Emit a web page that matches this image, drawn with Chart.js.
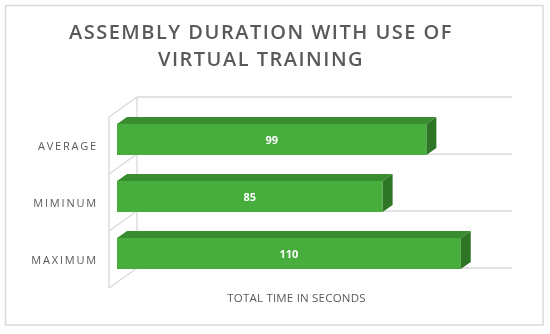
<!DOCTYPE html>
<html>
<head>
<meta charset="utf-8">
<script src="https://cdn.jsdelivr.net/npm/chart.js@4/dist/chart.umd.min.js"></script>
<style>
  html, body { margin: 0; padding: 0; background: #fff; }
  #wrap { width: 550px; height: 334px; }
</style>
</head>
<body>
<div id="wrap"><canvas id="chartDuration"></canvas></div>
<script>
// data
var categories = ['AVERAGE', 'MIMINUM', 'MAXIMUM'];
var seconds = [99, 85, 110];
var titleLines = ['ASSEMBLY DURATION WITH USE OF', 'VIRTUAL TRAINING'];
var axisTitle = 'TOTAL TIME IN SECONDS';

var green = '#47ad3d';
var greenTop = '#3a8c30';
var greenSide = '#2e7625';
var gridColor = '#d9d9d9';
var textColor = '#595959';

// fake 3d offsets
var depth = { dx: 10, dy: -7 };
var front = { dx: -8, dy: 6 };
var back = { dx: 20, dy: -14 };

var fake3d = {
    id: 'fake3d',
    beforeDraw: function (chart) {
        var ctx = chart.ctx;
        ctx.save();
        ctx.strokeStyle = gridColor;
        ctx.lineWidth = 1.5;
        ctx.strokeRect(5.5, 5.5, 537.5, 319.5);
        ctx.restore();
        ctx.letterSpacing = '1.5px';
    },
    beforeDatasetsDraw: function (chart) {
        var ctx = chart.ctx;
        var a = chart.chartArea;
        var ys = chart.scales.y;
        ctx.letterSpacing = '0px';
        ctx.save();
        ctx.strokeStyle = gridColor;
        ctx.lineWidth = 1.3;
        ctx.beginPath();
        // left wall
        ctx.moveTo(a.left + front.dx, a.top + front.dy);
        ctx.lineTo(a.left + front.dx, a.bottom + front.dy);
        ctx.moveTo(a.left + back.dx, a.top + back.dy);
        ctx.lineTo(a.left + back.dx, a.bottom + back.dy);
        for (var i = 0; i <= categories.length; i++) {
            var y = ys.getPixelForValue(i - 0.5);
            ctx.moveTo(a.left + front.dx, y + front.dy);
            ctx.lineTo(a.left + back.dx, y + back.dy);
            ctx.moveTo(a.left + back.dx, y + back.dy);
            ctx.lineTo(a.right + back.dx, y + back.dy);
        }
        ctx.stroke();
        ctx.restore();
    },
    afterDatasetsDraw: function (chart) {
        var ctx = chart.ctx;
        var meta = chart.getDatasetMeta(0);
        ctx.save();
        meta.data.forEach(function (bar, i) {
            var p = bar.getProps(['x', 'y', 'base', 'height'], true);
            var top = p.y - p.height / 2;
            var bottom = p.y + p.height / 2;
            // top face
            ctx.fillStyle = greenTop;
            ctx.beginPath();
            ctx.moveTo(p.base, top);
            ctx.lineTo(p.x, top);
            ctx.lineTo(p.x + depth.dx, top + depth.dy);
            ctx.lineTo(p.base + depth.dx, top + depth.dy);
            ctx.closePath();
            ctx.fill();
            // side face
            ctx.fillStyle = greenSide;
            ctx.beginPath();
            ctx.moveTo(p.x, top);
            ctx.lineTo(p.x + depth.dx, top + depth.dy);
            ctx.lineTo(p.x + depth.dx, bottom + depth.dy);
            ctx.lineTo(p.x, bottom);
            ctx.closePath();
            ctx.fill();
            // value label
            ctx.fillStyle = '#ffffff';
            ctx.font = 'bold 11px "Open Sans"';
            ctx.textAlign = 'center';
            ctx.textBaseline = 'middle';
            ctx.fillText(seconds[i], (p.base + p.x) / 2, p.y + 1);
        });
        ctx.restore();
    },
    afterDraw: function (chart) {
        var ctx = chart.ctx;
        var a = chart.chartArea;
        var ys = chart.scales.y;
        ctx.save();
        ctx.fillStyle = textColor;
        ctx.font = '11px "Open Sans"';
        ctx.letterSpacing = '1.8px';
        ctx.textAlign = 'right';
        ctx.textBaseline = 'middle';
        categories.forEach(function (c, i) {
            ctx.fillText(c, a.left - 19, ys.getPixelForValue(i) + front.dy + 1);
        });
        ctx.letterSpacing = '0.2px';
        ctx.font = '11.5px "Open Sans"';
        ctx.textAlign = 'center';
        ctx.fillText(axisTitle, (a.left + a.right) / 2 + front.dx, 299);
        ctx.restore();
    }
};

// hidden axes only used to reserve room left and right of the bars
var hiddenAxis = function (w, pos) {
    return {
        position: pos,
        display: true,
        grid: { display: false },
        border: { display: false },
        ticks: { display: false },
        afterFit: function (s) { s.width = w; }
    };
};

new Chart(document.getElementById('chartDuration'), {
    type: 'bar',
    data: {
        labels: categories,
        datasets: [{
            data: seconds,
            backgroundColor: green,
            borderWidth: 0,
            categoryPercentage: 0.545,
            barPercentage: 1
        }]
    },
    options: {
        indexAxis: 'y',
        responsive: true,
        maintainAspectRatio: false,
        animation: false,
        layout: {
            padding: { left: 0, right: 28, top: 5, bottom: 52 }
        },
        scales: {
            x: { display: false, min: 0, max: 120 },
            y: hiddenAxis(117, 'left'),
            yRight: Object.assign(hiddenAxis(30, 'right'), { type: 'category', labels: categories })
        },
        plugins: {
            legend: { display: false },
            tooltip: { enabled: false },
            title: {
                display: true,
                text: titleLines,
                color: textColor,
                font: { family: '"Open Sans"', size: 20, weight: '600', lineHeight: 1.35 },
                padding: { top: 15, bottom: 37 }
            }
        }
    },
    plugins: [fake3d]
});
</script>
</body>
</html>
